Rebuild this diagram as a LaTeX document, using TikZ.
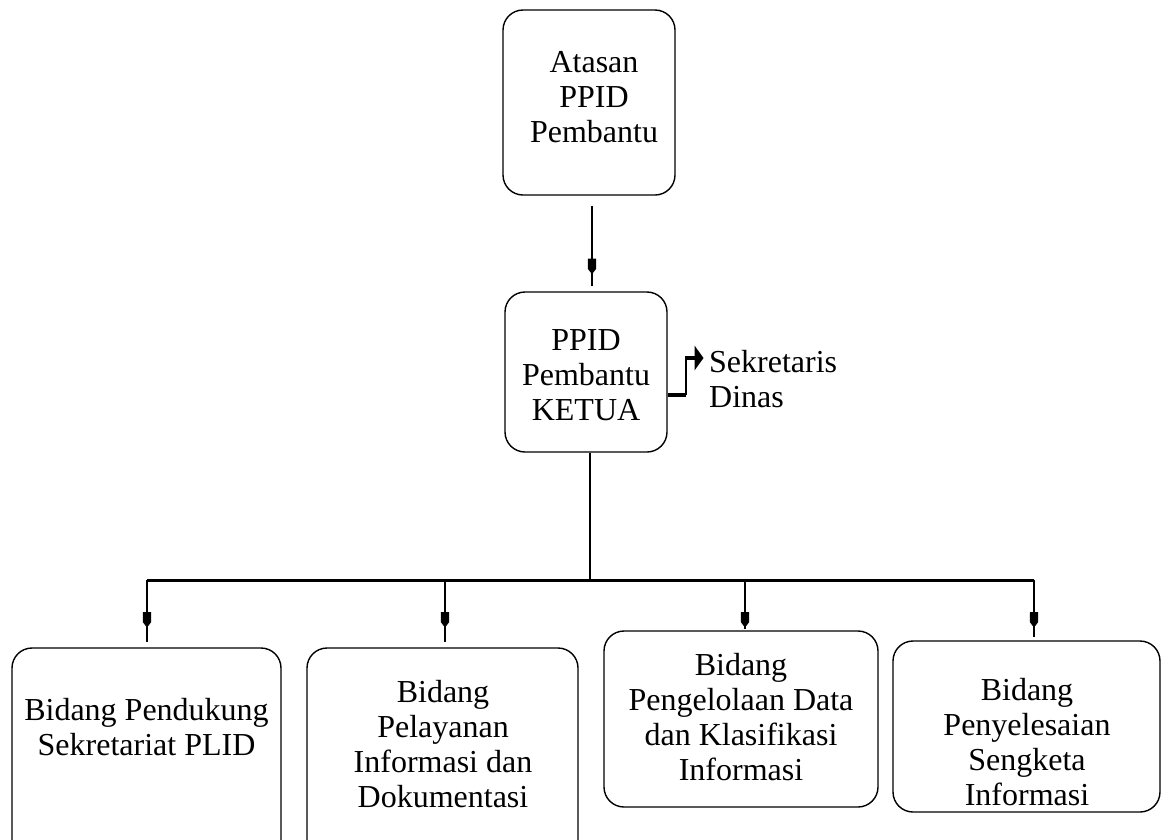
\documentclass[tikz,border=0pt]{standalone}
\usepackage{fontspec}
\setmainfont{Liberation Serif}
\usetikzlibrary{arrows.meta,decorations.markings,calc}
\begin{document}
\begin{tikzpicture}[x=1pt,y=-1pt,
  box/.style={draw,line width=1.4pt,rounded corners=20pt,inner sep=0pt},
  lbl/.style={align=center,font=\fontsize{32}{35}\selectfont,inner sep=0pt},
  conn/.style={line width=1.6pt},
  blockarrow/.style={postaction={decorate},decoration={markings,
     mark=at position #1 with {\fill (-14pt,-4pt) -- (-4pt,-4.2pt) -- (0pt,-1.2pt) -- (0pt,1.2pt) -- (-4pt,4.2pt) -- (-14pt,4pt) -- cycle;}}},
  endtri/.style={postaction={decorate},decoration={markings,
     mark=at position 1 with {\fill (-0.5pt,-12.5pt) -- (8.5pt,0pt) -- (-0.5pt,12.5pt) -- cycle;}}},
]
\useasboundingbox (0,0) rectangle (1168,839);
\clip (0,0) rectangle (1168,839);
% boxes
\node[box,minimum width=172pt,minimum height=185pt] (top) at (589,102.5) {};
\node[lbl] (toptxt) at (594,97) {Atasan\\PPID\\Pembantu};
\node[box,minimum width=162pt,minimum height=160pt] (mid) at (586,372) {};
\node[lbl] (midtxt) at (586,375) {PPID\\Pembantu\\KETUA};
\node[lbl,align=left,anchor=west] (sek) at (709,379) {Sekretaris\\Dinas};
\node[box,minimum width=269pt,minimum height=240pt] (b1) at (146.5,768) {};
\node[lbl] (t1) at (146.5,727) {Bidang Pendukung\\Sekretariat PLID};
\node[box,minimum width=271pt,minimum height=240pt] (b2) at (442.5,768) {};
\node[lbl] (t2) at (443,744) {Bidang\\Pelayanan\\Informasi dan\\Dokumentasi};
\node[box,minimum width=274pt,minimum height=176pt] (b3) at (741,719) {};
\node[lbl] (t3) at (741,717) {Bidang\\Pengelolaan Data\\dan Klasifikasi\\Informasi};
\node[box,minimum width=267pt,minimum height=171pt] (b4) at (1026.5,726.5) {};
\node[lbl] (t4) at (1027,742) {Bidang\\Penyelesaian\\Sengketa\\Informasi};
% coordinates
\coordinate (a1) at (592,0);
\coordinate (bus) at (590,580);
\coordinate (busL) at (147,580);
\coordinate (busR) at (1034,580);
\coordinate (d1) at (147,0);
\coordinate (d2) at (445,0);
\coordinate (d3) at (745,0);
\coordinate (d4) at (1034,0);
\coordinate (s1) at (686,0);
\coordinate (sy) at (0,395);
\coordinate (sa) at (0,358);
\coordinate (se) at (695,358);
% connectors
\draw[conn,line width=1.8pt,blockarrow=67pt] ($(top.south -| a1)+(0,10)$) -- ($(mid.north -| a1)+(0,-5)$);
\draw[line width=1.3pt] (mid.south -| bus) -- (bus);
\draw[line width=3pt] (busL) -- (busR);
\draw[conn,blockarrow=46pt] (busL) -- ($(b1.north -| d1)+(0,-5)$);
\draw[conn,blockarrow=46pt] (busL -| d2) -- ($(b2.north -| d2)+(0,-5)$);
\draw[conn,blockarrow=46pt] (busL -| d3) -- ($(b3.north -| d3)+(0,-1)$);
\draw[conn,blockarrow=46pt] (busR) -- ($(b4.north -| d4)+(0,-3)$);
\draw[line width=3.5pt] (mid.east |- sy) -- (s1 |- sy);
\draw[line width=1.8pt] (s1 |- sy) -- (s1 |- sa);
\draw[line width=3.5pt,endtri] ($(s1 |- sa)+(-0.9,0)$) -- (se);
\end{tikzpicture}
\end{document}
